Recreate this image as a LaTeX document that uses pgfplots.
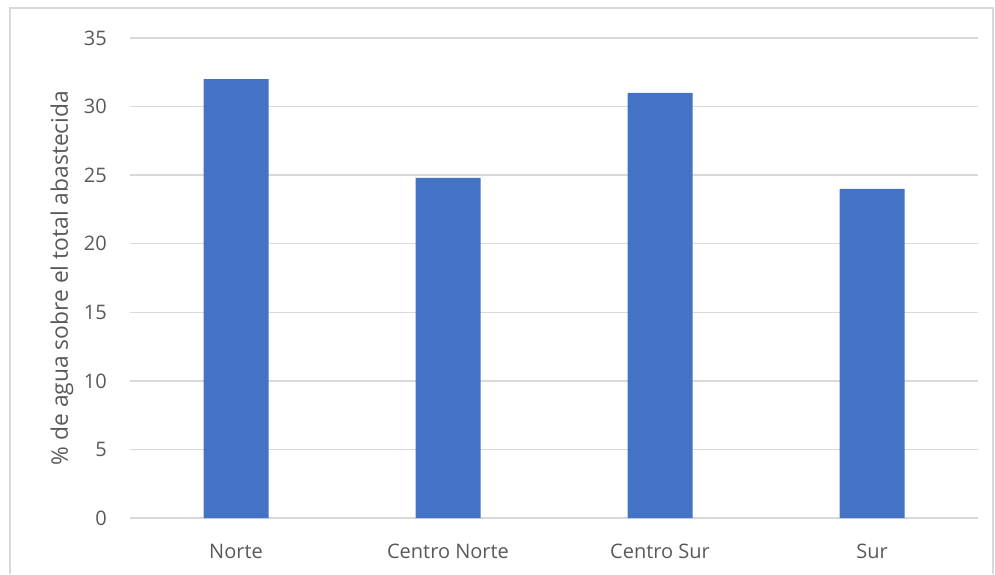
\documentclass[border=0pt]{standalone}
\usepackage{pgfplots}
\pgfplotsset{compat=1.18}
\usepackage{fontspec}
\setmainfont{Open Sans}
\definecolor{barblue}{HTML}{4472C4}
\definecolor{gridgray}{HTML}{D9D9D9}
\definecolor{txtgray}{HTML}{595959}
\begin{document}
\begin{tikzpicture}
\path[use as bounding box] (0,0) rectangle (995pt,574pt);
\draw[gridgray, line width=1.3pt] (10pt,0) -- (10pt,566pt) -- (993pt,566pt) -- (993pt,0);
\begin{axis}[
  at={(130pt,56pt)}, anchor=south west,
  scale only axis, width=848pt, height=480pt,
  xmin=-0.5, xmax=3.5, ymin=0, ymax=35,
  xtick=data, xticklabels={Norte, Centro Norte, Centro Sur, Sur},
  ytick={0,5,...,35},
  /pgf/number format/assume math mode=true,
  ymajorgrids, grid style={gridgray, line width=1.3pt},
  axis line style={draw=none},
  major tick length=0pt,
  tick label style={font=\fontsize{20}{24}\selectfont, text=txtgray},
  xticklabel style={anchor=base, yshift=-40pt, inner sep=0pt},
  yticklabel style={anchor=east, xshift=-23pt, inner sep=0pt},
  every axis y label/.style={at={(axis description cs:-0.0802,0.5)}, rotate=90, anchor=center},
  ylabel={\% de agua sobre el total abastecida},
  label style={font=\fontsize{22.8}{27}\selectfont, text=txtgray},
]
\addplot[ybar, bar width=65pt, fill=barblue, draw=none] coordinates {(0,32) (1,24.8) (2,31) (3,24)};
\end{axis}
\end{tikzpicture}
\end{document}
